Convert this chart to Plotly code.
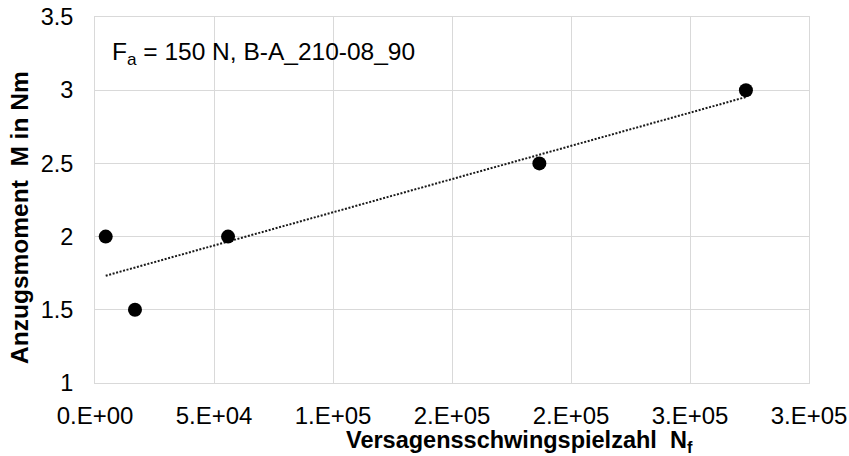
import numpy as np
import plotly.graph_objects as go

# Data
cycles = [4500, 16800, 55900, 186700, 273500]        # Versagensschwingspielzahl N_f
torque = [2.0, 1.5, 2.0, 2.5, 3.0]                    # Anzugsmoment M in Nm

x_tickvals = [0, 50000, 100000, 150000, 200000, 250000, 300000]
x_ticktext = ["0.E+00", "5.E+04", "1.E+05", "2.E+05", "2.E+05", "3.E+05", "3.E+05"]
y_tickvals = [1, 1.5, 2, 2.5, 3, 3.5]
y_ticktext = ["1", "1.5", "2", "2.5", "3", "3.5"]

annotation_text = "F<sub>a</sub> = 150 N, B-A_210-08_90"
x_title = "<b>Versagensschwingspielzahl  N<sub>f</sub></b>"
y_title = "<b>Anzugsmoment  M in Nm</b>"

# Linear trendline (as Excel does), from min to max x
slope, intercept = np.polyfit(cycles, torque, 1)
trend_x = [min(cycles), max(cycles)]
trend_y = [slope * v + intercept for v in trend_x]

FONT = "Liberation Sans, Arial, sans-serif"
GRID = "#d9d9d9"

fig = go.Figure()
fig.add_trace(go.Scatter(
    x=trend_x, y=trend_y, mode="lines",
    line=dict(color="#1a1a1a", width=2, dash="2px,1.6px"),
    showlegend=False, hoverinfo="skip"))
fig.add_trace(go.Scatter(
    x=cycles, y=torque, mode="markers",
    marker=dict(color="black", size=14),
    showlegend=False))

fig.update_layout(
    width=849, height=456,
    margin=dict(l=95, r=40, t=17, b=73, autoexpand=False),
    paper_bgcolor="white", plot_bgcolor="white",
    font=dict(family=FONT, color="#000000", size=24),
    annotations=[
        dict(text=annotation_text, xref="paper", yref="paper",
             x=0.021, y=0.899, xanchor="left", yanchor="middle",
             showarrow=False, font=dict(size=24.5, family=FONT, color="#000000")),
        dict(text=x_title, xref="paper", yref="paper",
             x=0.595, y=-0.161, xanchor="center", yanchor="middle",
             showarrow=False, font=dict(size=23.5, family=FONT, color="#000000")),
        dict(text=y_title, xref="paper", yref="paper",
             x=-0.105, y=0.451, xanchor="center", yanchor="middle", textangle=-90,
             showarrow=False, font=dict(size=24.5, family=FONT, color="#000000")),
    ],
)
fig.update_xaxes(
    range=[0, 300000], tickmode="array", tickvals=x_tickvals, ticktext=x_ticktext,
    showgrid=True, gridcolor=GRID, gridwidth=1,
    showline=True, linecolor=GRID, linewidth=1, mirror=True,
    zeroline=False, ticks="", ticklabelstandoff=11, automargin=False,
    tickfont=dict(size=24, family=FONT, color="#000000"))
fig.update_yaxes(
    range=[1, 3.5], tickmode="array", tickvals=y_tickvals, ticktext=y_ticktext,
    showgrid=True, gridcolor=GRID, gridwidth=1,
    showline=True, linecolor=GRID, linewidth=1, mirror=True,
    zeroline=False, ticks="", ticklabelstandoff=16, automargin=False,
    tickfont=dict(size=23.5, family=FONT, color="#000000"))

fig.write_html("out.html")
